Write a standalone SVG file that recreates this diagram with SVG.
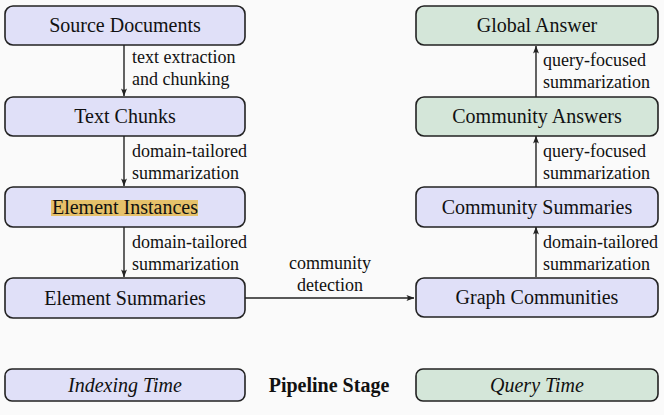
<svg xmlns="http://www.w3.org/2000/svg" width="664" height="415" viewBox="0 0 664 415">
<style>
.bg{fill:#fafafa}
.idx{fill:#e0e0f8;stroke:#222;stroke-width:1.6}
.qry{fill:#d4e6d9;stroke:#222;stroke-width:1.6}
.nodelabel{font-family:'Liberation Serif',serif;font-size:20px;fill:#111;text-anchor:middle}
.edgelabel{font-family:'Liberation Serif',serif;font-size:18px;fill:#111}
.conn{stroke:#222;stroke-width:1.4;fill:none;marker-end:url(#ah)}
</style>
<defs>
<marker id="ah" viewBox="0 0 10 8" refX="9.5" refY="4" markerWidth="8" markerHeight="6.4" markerUnits="userSpaceOnUse" orient="auto">
<path d="M0,0.3 L10,4 L0,7.7 Q3.5,4 0,0.3 Z" fill="#222"/>
</marker>
</defs>
<rect class="bg" x="0" y="0" width="664" height="415"/>
<g id="connectors">
<line class="conn" x1="124" y1="45" x2="124" y2="96"/>
<line class="conn" x1="124" y1="136" x2="124" y2="186"/>
<line class="conn" x1="124" y1="227" x2="124" y2="277"/>
<line class="conn" x1="245" y1="298" x2="414" y2="298"/>
<line class="conn" x1="536" y1="277" x2="536" y2="227"/>
<line class="conn" x1="536" y1="187" x2="536" y2="136"/>
<line class="conn" x1="536" y1="97" x2="536" y2="46"/>
<text class="edgelabel" x="132" y="63">text extraction</text>
<text class="edgelabel" x="132" y="85">and chunking</text>
<text class="edgelabel" x="132" y="157">domain-tailored</text>
<text class="edgelabel" x="132" y="179">summarization</text>
<text class="edgelabel" x="132" y="248">domain-tailored</text>
<text class="edgelabel" x="132" y="270">summarization</text>
<text class="edgelabel" x="330" y="269" text-anchor="middle">community</text>
<text class="edgelabel" x="330" y="291" text-anchor="middle">detection</text>
<text class="edgelabel" x="543" y="248">domain-tailored</text>
<text class="edgelabel" x="543" y="270">summarization</text>
<text class="edgelabel" x="543" y="157">query-focused</text>
<text class="edgelabel" x="543" y="179">summarization</text>
<text class="edgelabel" x="543" y="66">query-focused</text>
<text class="edgelabel" x="543" y="88">summarization</text>
</g>
<g id="source-documents"><rect class="idx" x="5" y="6" width="240" height="39" rx="8"/><text class="nodelabel" x="125" y="32">Source Documents</text></g>
<g id="text-chunks"><rect class="idx" x="5" y="97" width="240" height="39" rx="8"/><text class="nodelabel" x="125" y="123">Text Chunks</text></g>
<g id="element-instances"><rect class="idx" x="5" y="187" width="240" height="40" rx="8"/><rect x="51" y="200" width="147" height="16" fill="#e6c16a"/><text class="nodelabel" x="125" y="214">Element Instances</text></g>
<g id="element-summaries"><rect class="idx" x="5" y="278" width="240" height="40" rx="8"/><text class="nodelabel" x="125" y="305">Element Summaries</text></g>
<g id="global-answer"><rect class="qry" x="416" y="6" width="242" height="39" rx="8"/><text class="nodelabel" x="537" y="32">Global Answer</text></g>
<g id="community-answers"><rect class="qry" x="416" y="97" width="242" height="39" rx="8"/><text class="nodelabel" x="537" y="123">Community Answers</text></g>
<g id="community-summaries"><rect class="idx" x="416" y="187" width="242" height="40" rx="8"/><text class="nodelabel" x="537" y="214">Community Summaries</text></g>
<g id="graph-communities"><rect class="idx" x="416" y="278" width="242" height="39" rx="8"/><text class="nodelabel" x="537" y="304">Graph Communities</text></g>
<g id="legend-indexing"><rect class="idx" x="5" y="369" width="240" height="32" rx="7"/><text class="nodelabel" x="125" y="392" font-style="italic">Indexing Time</text></g>
<g id="legend-title"><text class="nodelabel" x="329" y="392" font-weight="bold">Pipeline Stage</text></g>
<g id="legend-query"><rect class="qry" x="416" y="369" width="242" height="32" rx="7"/><text class="nodelabel" x="537" y="392" font-style="italic">Query Time</text></g>
</svg>
